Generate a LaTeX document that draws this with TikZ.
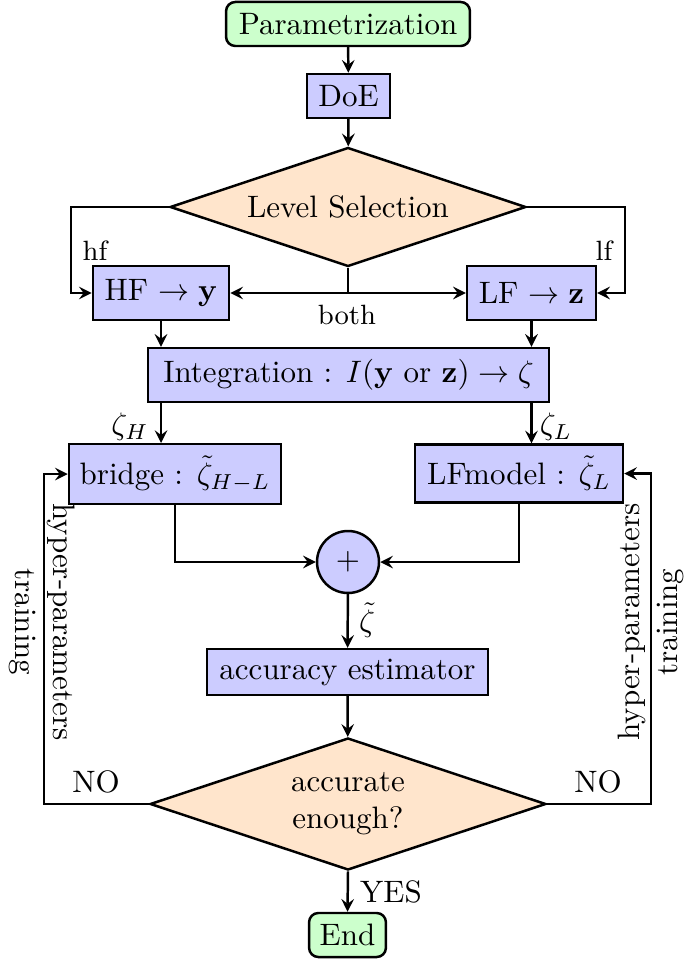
\documentclass[tikz,border=0pt]{standalone}
\usetikzlibrary{shapes.geometric,arrows}
\begin{document}
\begin{tikzpicture}[x=0.3226pt,y=-0.3226pt,
  startstop/.style={rectangle, rounded corners=3pt, draw, thick, fill=green!20, inner sep=0pt},
  process/.style={rectangle, draw, thick, fill=blue!20, inner sep=0pt},
  decision/.style={diamond, shape aspect=3, draw, thick, fill=orange!20, inner sep=0pt, align=center},
  summer/.style={circle, draw, thick, fill=blue!20, inner sep=0pt},
  arrow/.style={thick,->,>=stealth},
  plainline/.style={thick},
  lbl/.style={font=\small, inner sep=0pt},
  edgelbl/.style={inner sep=0pt}]
\useasboundingbox (0,0) rectangle (685,961);

\node[startstop, minimum width=78.7pt, minimum height=14.2pt] (param) at (348,24) {Parametrization};
\node[process, minimum width=26.8pt, minimum height=14.2pt] (doe) at (348.5,96) {DoE};
\node[decision, minimum width=114.8pt, minimum height=38.4pt] (level) at (348,207) {Level Selection};
\node[process, minimum width=43.9pt, minimum height=17.4pt] (hf) at (161,293) {HF $\to \mathbf{y}$};
\node[process, minimum width=41.6pt, minimum height=17.4pt] (lf) at (531.5,293) {LF $\to \mathbf{z}$};
\node[process, minimum width=129.4pt, minimum height=17.4pt] (integ) at (348.5,375) {Integration : $I(\mathbf{y}$ or $\mathbf{z}) \to \zeta$};
\node[process, minimum width=68.4pt, minimum height=19.2pt] (bridge) at (175,474) {bridge : $\tilde{\zeta}_{H-L}$};
\node[process, minimum width=67.1pt, minimum height=18.6pt] (lfm) at (519,473.5) {LFmodel : $\tilde{\zeta}_L$};
\node[summer, minimum size=20pt] (plus) at (348,562) {$+$};
\node[process, minimum width=90.6pt, minimum height=14.8pt] (acc) at (347.5,672) {accuracy estimator};
\node[decision, minimum width=127.7pt, minimum height=42.6pt] (accq) at (348,804) {accurate\\enough?};
\node[startstop, minimum width=24.8pt, minimum height=14.2pt] (end) at (347.5,935) {End};

% top chain
\draw[arrow] (param) -- (doe);
\draw[arrow] (doe) -- (level);

% level selection branches
\draw[arrow] (level.west) -- ++(-98,0) |- (hf.west);
\draw[arrow] (level.east) -- ++(98,0) |- (lf.east);
\coordinate (bothpt) at (level.south |- hf.east);
\draw[plainline] (level.south) -- (bothpt);
\draw[arrow] (bothpt) -- (hf.east);
\draw[arrow] (bothpt) -- (lf.west);
\node[lbl] (lhf) at (95,251) {hf};
\node[lbl] (llf) at (604,251) {lf};
\node[lbl] (lboth) at (347,315) {both};

% to integration
\draw[arrow] (hf.south) -- (hf.south |- integ.north);
\draw[arrow] (lf.south) -- (lf.south |- integ.north);

% to bridge / LF model
\draw[arrow] (integ.south -| hf.south) -- (bridge.north -| hf.south);
\draw[arrow] (integ.south -| lf.south) -- (lfm.north -| lf.south);
\node[edgelbl] (lzh) at (130,427) {$\zeta_H$};
\node[edgelbl] (lzl) at (556,427) {$\zeta_L$};

% to summation
\draw[arrow] (bridge.south) |- (plus.west);
\draw[arrow] (lfm.south) |- (plus.east);
\draw[arrow] (plus) -- (acc);
\node[edgelbl] (lzt) at (367,620) {$\tilde{\zeta}$};

\draw[arrow] (acc) -- (accq);

% feedback loops
\draw[arrow] (accq.west) -- ++(-105,0) |- (bridge.west);
\draw[arrow] (accq.east) -- ++(104,0) |- (lfm.east);
\node[edgelbl] (lnol) at (96,782) {NO};
\node[edgelbl] (lnor) at (598,782) {NO};
\node[edgelbl, rotate=-90, align=center] (hpl) at (42,622) {hyper-parameters\\training};
\node[edgelbl, rotate=90, align=center] (hpr) at (651,622) {hyper-parameters\\training};

% end
\draw[arrow] (accq.south) -- (end.north);
\node[edgelbl] (lyes) at (391,892) {YES};
\end{tikzpicture}
\end{document}
